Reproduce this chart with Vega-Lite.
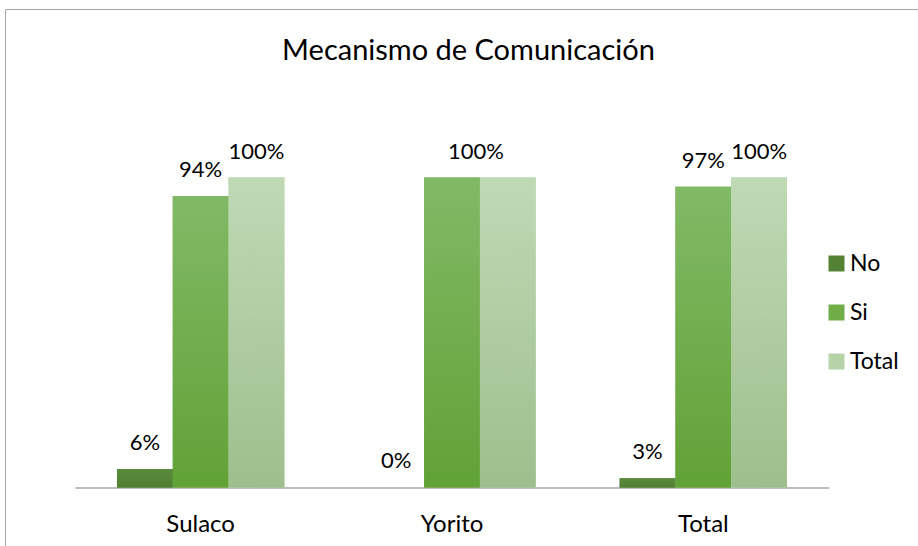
{
  "$schema": "https://vega.github.io/schema/vega-lite/v6.json",
  "width": 913,
  "height": 537,
  "autosize": {"type": "none"},
  "padding": {"left": 5, "top": 9, "right": 0, "bottom": 0},
  "background": "#ffffff",
  "title": {
    "text": "Mecanismo de Comunicación",
    "font": "Lato",
    "fontSize": 29,
    "fontWeight": "normal",
    "color": "#000000",
    "anchor": "middle",
    "baseline": "alphabetic",
    "offset": -80,
    "dx": 7,
    "frame": "group"
  },
  "data": {
    "values": [
      {"group": "Sulaco", "series": "No", "value": 0.06, "label": "6%"},
      {"group": "Sulaco", "series": "Si", "value": 0.94, "label": "94%"},
      {"group": "Sulaco", "series": "Total", "value": 1.0, "label": "100%"},
      {"group": "Yorito", "series": "No", "value": 0.0, "label": "0%"},
      {"group": "Yorito", "series": "Si", "value": 1.0, "label": "100%"},
      {"group": "Yorito", "series": "Total", "value": 1.0, "label": "100%"},
      {"group": "Total", "series": "No", "value": 0.03, "label": "3%"},
      {"group": "Total", "series": "Si", "value": 0.97, "label": "97%"},
      {"group": "Total", "series": "Total", "value": 1.0, "label": "100%"}
    ]
  },
  "encoding": {
    "x": {
      "field": "group",
      "type": "nominal",
      "sort": ["Sulaco", "Yorito", "Total"],
      "scale": {"range": [70, 824], "paddingInner": 0.334, "paddingOuter": 0.167},
      "axis": {
        "title": null,
        "orient": "bottom",
        "offset": -58.5,
        "ticks": false,
        "domainColor": "#a6a6a6",
        "domainWidth": 1.5,
        "labelAngle": 0,
        "labelFont": "Lato",
        "labelFontSize": 24,
        "labelColor": "#000000",
        "labelBaseline": "alphabetic",
        "labelPadding": 44,
        "grid": false
      }
    },
    "xOffset": {
      "field": "series",
      "type": "nominal",
      "sort": ["No", "Si", "Total"],
      "scale": {"paddingInner": 0, "paddingOuter": 0}
    },
    "y": {
      "field": "value",
      "type": "quantitative",
      "scale": {"domain": [-0.18871, 1.54355], "nice": false, "zero": false},
      "axis": null
    }
  },
  "layer": [
    {
      "mark": {"type": "bar", "strokeWidth": 0},
      "encoding": {
        "color": {
          "field": "series",
          "type": "nominal",
          "sort": ["No", "Si", "Total"],
          "scale": {"domain": ["No", "Si", "Total"], "range": ["#548235", "#70ad47", "#b5d3a6"]},
          "legend": {
            "title": null,
            "orient": "none",
            "legendX": 820,
            "legendY": 243,
            "padding": 0,
            "symbolType": "square",
            "symbolSize": 256,
            "symbolStrokeWidth": 0,
            "labelFont": "Lato",
            "labelFontSize": 23,
            "labelColor": "#000000",
            "labelOffset": 2,
            "rowPadding": 25
          }
        }
      }
    },
    {
      "mark": {"type": "bar", "strokeWidth": 0},
      "encoding": {
        "fill": {
          "condition": [
            {
              "test": "datum.series === 'Si'",
              "value": {
                "gradient": "linear", "x1": 0, "y1": 0, "x2": 0, "y2": 1,
                "stops": [{"offset": 0, "color": "#82b966"}, {"offset": 1, "color": "#61a236"}]
              }
            },
            {
              "test": "datum.series === 'Total'",
              "value": {
                "gradient": "linear", "x1": 0, "y1": 0, "x2": 0, "y2": 1,
                "stops": [{"offset": 0, "color": "#bfd9b5"}, {"offset": 1, "color": "#9ebf8d"}]
              }
            }
          ],
          "value": {
            "gradient": "linear", "x1": 0, "y1": 0, "x2": 0, "y2": 1,
            "stops": [{"offset": 0, "color": "#5b8b3d"}, {"offset": 1, "color": "#4f7e32"}]
          }
        }
      }
    },
    {
      "transform": [{"filter": "datum.group !== 'Yorito' || datum.series === 'No'"}],
      "mark": {
        "type": "text",
        "baseline": "alphabetic",
        "align": "center",
        "dy": -19,
        "font": "Lato",
        "fontSize": 22,
        "color": "#000000"
      },
      "encoding": {
        "text": {"field": "label", "type": "nominal"}
      }
    },
    {
      "transform": [{"filter": "datum.group === 'Yorito' && datum.series === 'Si'"}],
      "mark": {
        "type": "text",
        "baseline": "alphabetic",
        "align": "center",
        "dy": -19,
        "dx": 24,
        "font": "Lato",
        "fontSize": 22,
        "color": "#000000"
      },
      "encoding": {
        "text": {"field": "label", "type": "nominal"}
      }
    }
  ],
  "config": {
    "view": {
      "stroke": "#a6a6a6",
      "strokeWidth": 1,
      "strokeDash": [913, 1450, 537]
    }
  }
}
